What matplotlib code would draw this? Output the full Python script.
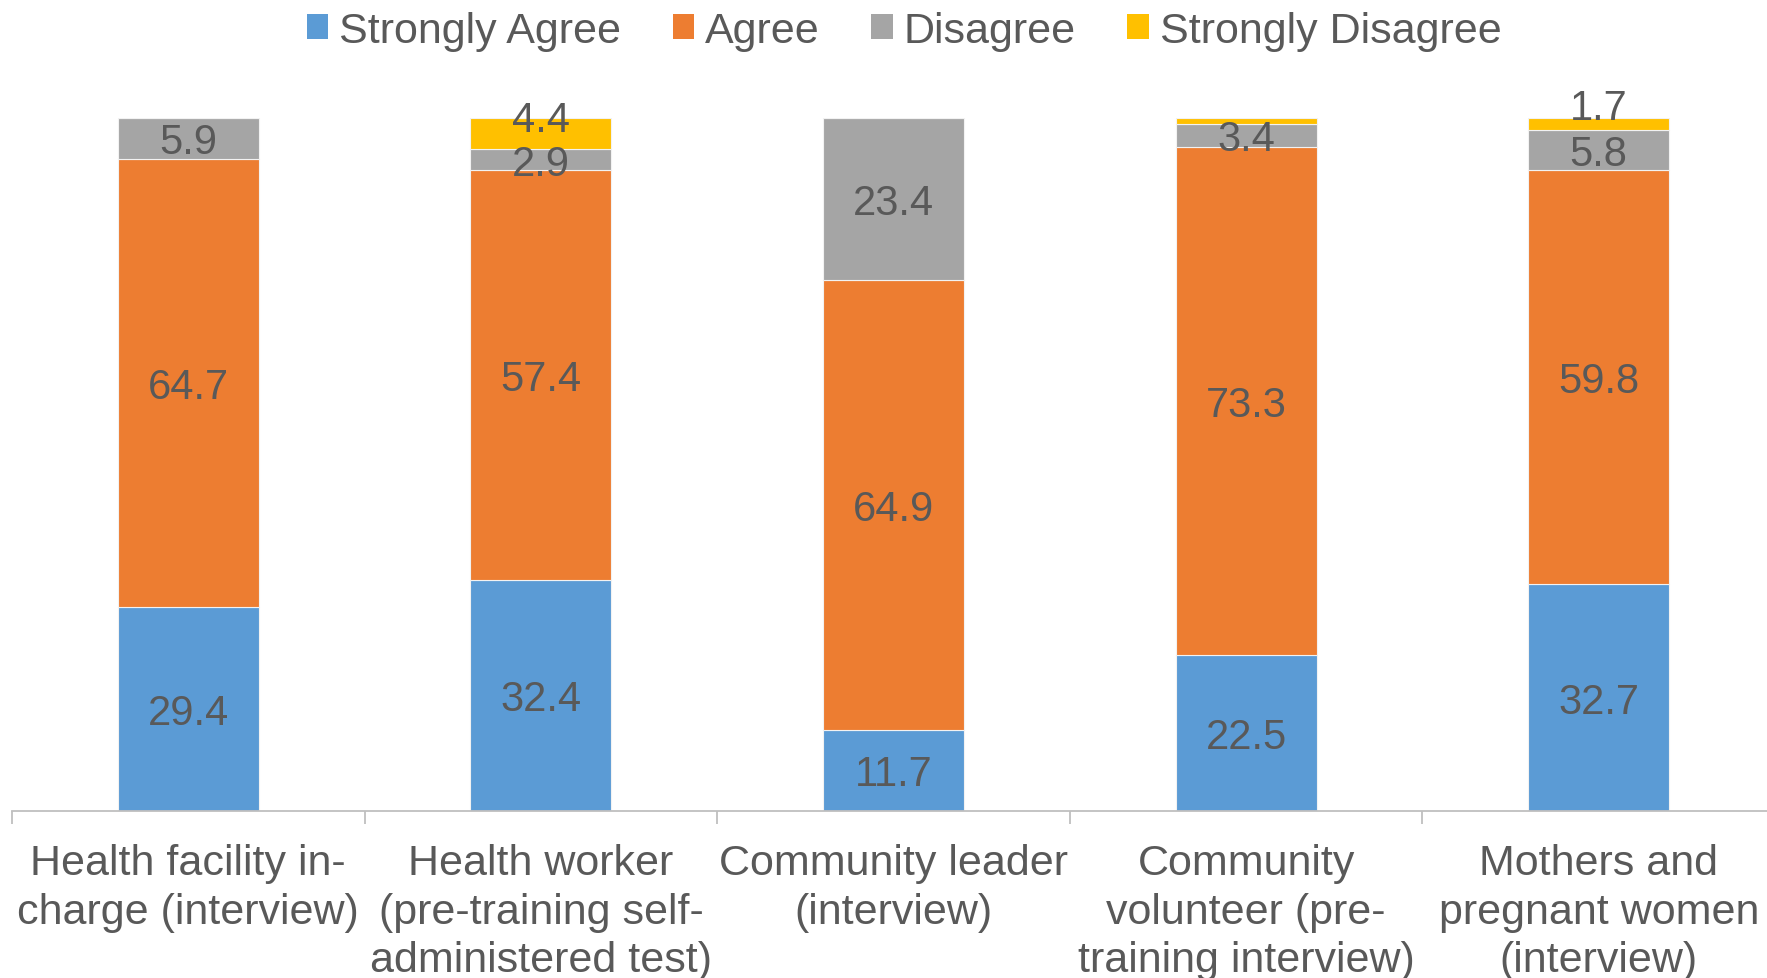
import matplotlib
matplotlib.use("Agg")
import matplotlib.pyplot as plt
from matplotlib.patches import Patch
import numpy as np

plt.rcParams['font.family'] = ['Liberation Sans', 'DejaVu Sans']

categories = [
    "Health facility in-\ncharge (interview)",
    "Health worker\n(pre-training self-\nadministered test)",
    "Community leader\n(interview)",
    "Community\nvolunteer (pre-\ntraining interview)",
    "Mothers and\npregnant women\n(interview)",
]
series_names = ["Strongly Agree", "Agree", "Disagree", "Strongly Disagree"]
strongly_agree = [29.4, 32.4, 11.7, 22.5, 32.7]
agree = [64.7, 57.4, 64.9, 73.3, 59.8]
disagree = [5.9, 2.9, 23.4, 3.4, 5.8]
strongly_disagree = [0.0, 4.4, 0.0, 0.8, 1.7]
# which values carry a visible data label
show_label = [
    [True, True, True, True, True],
    [True, True, True, True, True],
    [True, True, True, True, True],
    [False, True, False, False, True],
]

colors = ["#5B9BD5", "#ED7D31", "#A5A5A5", "#FFC000"]
text_color = "#595959"
# vertical nudges (pixels) for crowded labels at the top of the bars
label_nudge = {(3, 1): 18, (3, 4): 20}
base_nudge = -4

W, H = 1767, 979
fig = plt.figure(figsize=(W / 100, H / 100), dpi=100)
ax_left, ax_right = 12, 1775
ax_bottom, ax_top = 812, 119
ax = fig.add_axes([ax_left / W, 1 - ax_bottom / H,
                   (ax_right - ax_left) / W, (ax_bottom - ax_top) / H])

data = np.array([strongly_agree, agree, disagree, strongly_disagree])
totals = data.sum(axis=0)
shares = data / totals * 100  # 100% stacked
x = np.arange(len(categories))
bottom = np.zeros(len(categories))
for i, name in enumerate(series_names):
    ax.bar(x, shares[i], 0.4, bottom=bottom, color=colors[i],
           edgecolor="#F2F2F2", linewidth=0.8, label=name, zorder=2)
    for j in range(len(categories)):
        if data[i, j] > 0 and show_label[i][j]:
            yc = bottom[j] + shares[i, j] / 2
            dy = label_nudge.get((i, j), 0) + base_nudge
            ax.annotate(f"{data[i, j]:.1f}", (x[j], yc), xytext=(0, dy * 0.72),
                        textcoords="offset points", ha="center", va="center",
                        fontsize=30, color=text_color, zorder=3,
                        annotation_clip=False)
    bottom += shares[i]

ax.set_xlim(-0.5, len(categories) - 0.5)
ax.set_ylim(0, 100)
for s in ["top", "right", "left"]:
    ax.spines[s].set_visible(False)
ax.spines["bottom"].set_color("#BFBFBF")
ax.spines["bottom"].set_linewidth(1.3)
ax.set_yticks([])
ax.set_xticks(x)
ax.set_xticklabels(categories, fontsize=31, color=text_color, linespacing=1.28)
ax.tick_params(axis="x", which="major", length=0, pad=23)
ax.set_xticks(np.arange(-0.5, len(categories)), minor=True)
ax.tick_params(axis="x", which="minor", length=9, color="#BFBFBF", width=1.3)

handles = [Patch(facecolor=c, edgecolor="none") for c in colors]
fig.legend(handles, series_names, loc="center", ncol=4,
           bbox_to_anchor=(904 / W, 1 - 32 / H), frameon=False,
           fontsize=31, handlelength=0.5, handleheight=0.5,
           handletextpad=0.25, columnspacing=1.2, labelcolor=text_color)

fig.savefig("out.png", dpi=100, facecolor="white")
